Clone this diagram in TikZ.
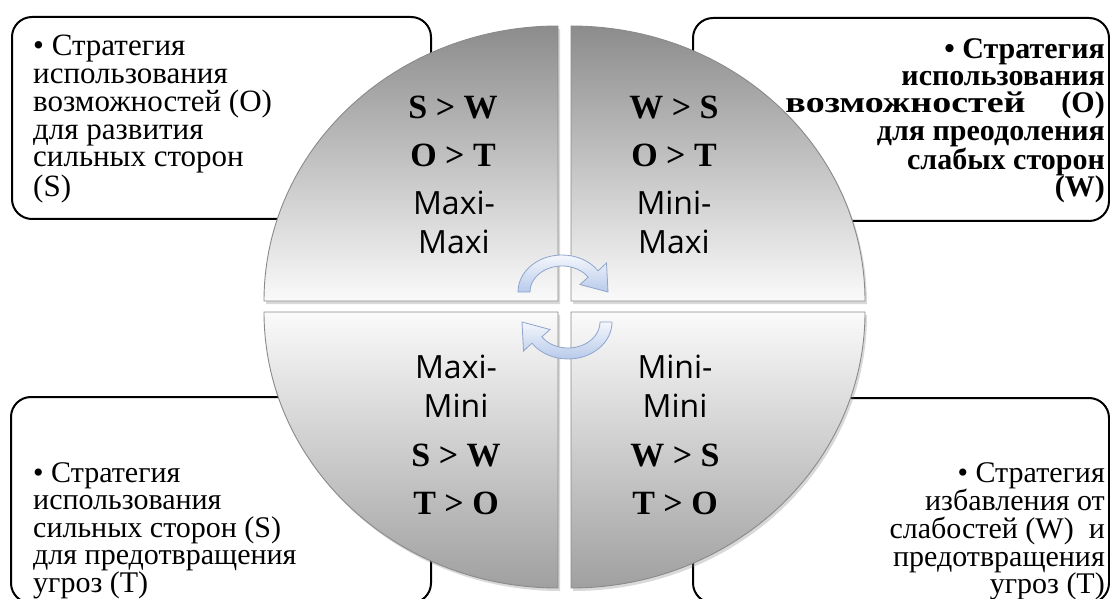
\documentclass[tikz,border=0pt]{standalone}
\usepackage{fontspec}
\setmainfont{Liberation Serif}
\newfontfamily\sansf{Open Sans}
\usetikzlibrary{shadows}
\definecolor{qdark}{HTML}{8C8C8C}
\definecolor{qlight}{HTML}{FAFAFA}
\definecolor{qmid}{HTML}{EDEDED}
\definecolor{qbot}{HTML}{A0A0A0}
\definecolor{qline}{HTML}{8A8A8A}
\definecolor{arrowtop}{HTML}{F4F7FC}
\definecolor{arrowbot}{HTML}{B8CAEA}
\definecolor{arrowline}{HTML}{8EA4CC}
\tikzset{
  box/.style={draw=black, line width=2pt, rounded corners=20pt, fill=white},
  quad/.style={draw=qline, line width=0.9pt,
    drop shadow={opacity=0.3, shadow xshift=2pt, shadow yshift=-3pt}},
  topq/.style={quad, top color=qdark, bottom color=qlight},
  botq/.style={quad, top color=qlight, middle color=qmid, bottom color=qbot},
  boxtext/.style={font=\fontsize{30}{27.6}\selectfont, inner sep=0pt},
  rel/.style={font=\fontsize{34}{34}\selectfont\bfseries, inner sep=0pt},
  mm/.style={font=\sansf\fontsize{32}{39}\selectfont, align=center, inner sep=0pt},
  cyc/.style={draw=arrowline, line width=0.8pt, top color=arrowtop, bottom color=arrowbot},
  cycarrow/.pic={
    \path[cyc] (-44,0) arc[start angle=180, end angle=35, x radius=44, y radius=37]
      -- (44.5,29) -- (46,0) -- (18,7.5) -- (26.2,14.9)
      arc[start angle=35, end angle=180, x radius=32, y radius=26] -- cycle;
  }
}
\begin{document}
\begin{tikzpicture}[x=1pt,y=1pt]
\useasboundingbox (0,0) rectangle (1110,598);
\clip (0,0) rectangle (1110,598);

% outer boxes
\node[box, anchor=north west, minimum width=419, minimum height=202] (boxTL) at (11,582) {};
\node[box, anchor=north west, minimum width=416, minimum height=203] (boxTR) at (692,581) {};
\node[box, anchor=north west, minimum width=420, minimum height=206] (boxBL) at (10,202) {};
\node[box, anchor=north west, minimum width=416, minimum height=205] (boxBR) at (692,201) {};

% box texts
\node[boxtext, anchor=north west, align=left, font=\fontsize{31}{27.8}\selectfont] (tTL) at (33,563)
  {• Стратегия\\использования\\возможностей (О)\\для развития\\сильных сторон\\(S)};
\node[boxtext, anchor=north east, align=right, font=\fontsize{30}{27.4}\selectfont\bfseries] (tTR) at (1105,560)
  {• Стратегия\\использования\\\resizebox{240pt}{\height}{возможностей}\hspace{36pt}(О)\\для преодоления\\слабых сторон\\(W)};
\node[boxtext, anchor=north west, align=left] (tBL) at (33,136)
  {• Стратегия\\использования\\сильных сторон (S)\\для предотвращения\\угроз (T)};
\node[boxtext, anchor=north east, align=right] (tBR) at (1105,136)
  {• Стратегия\\избавления от\\слабостей (W)~~и\\предотвращения\\угроз (T)};

% quadrants
\path[topq] (558,297) -- (264,297) arc[start angle=180, end angle=90, x radius=294, y radius=275] -- cycle;
\path[topq] (571,297) -- (865,297) arc[start angle=0, end angle=90, x radius=294, y radius=275] -- cycle;
\path[botq] (558,286) -- (264,286) arc[start angle=180, end angle=270, x radius=294, y radius=276] -- cycle;
\path[botq] (571,286) -- (865,286) arc[start angle=0, end angle=-90, x radius=294, y radius=276] -- cycle;

% quadrant labels
\node[rel] (sw1) at (453,490) {S > W};
\node[rel] (ot1) at (453,443) {O > T};
\node[mm]  (mm1) at (454,375.5) {Maxi-\\Maxi};
\node[rel] (ws1) at (674,490) {W > S};
\node[rel] (ot2) at (674,443) {O > T};
\node[mm]  (mm2) at (674,375.5) {Mini-\\Maxi};
\node[mm]  (mm3) at (456,211.5) {Maxi-\\Mini};
\node[rel] (sw2) at (456,143) {S > W};
\node[rel] (to1) at (456,95) {T > O};
\node[mm]  (mm4) at (675,211.5) {Mini-\\Mini};
\node[rel] (ws2) at (675,143) {W > S};
\node[rel] (to2) at (675,95) {T > O};

% cycle arrows
\pic at (562,306) {cycarrow};
\pic[rotate=180] at (568,276) {cycarrow};
\end{tikzpicture}
\end{document}
